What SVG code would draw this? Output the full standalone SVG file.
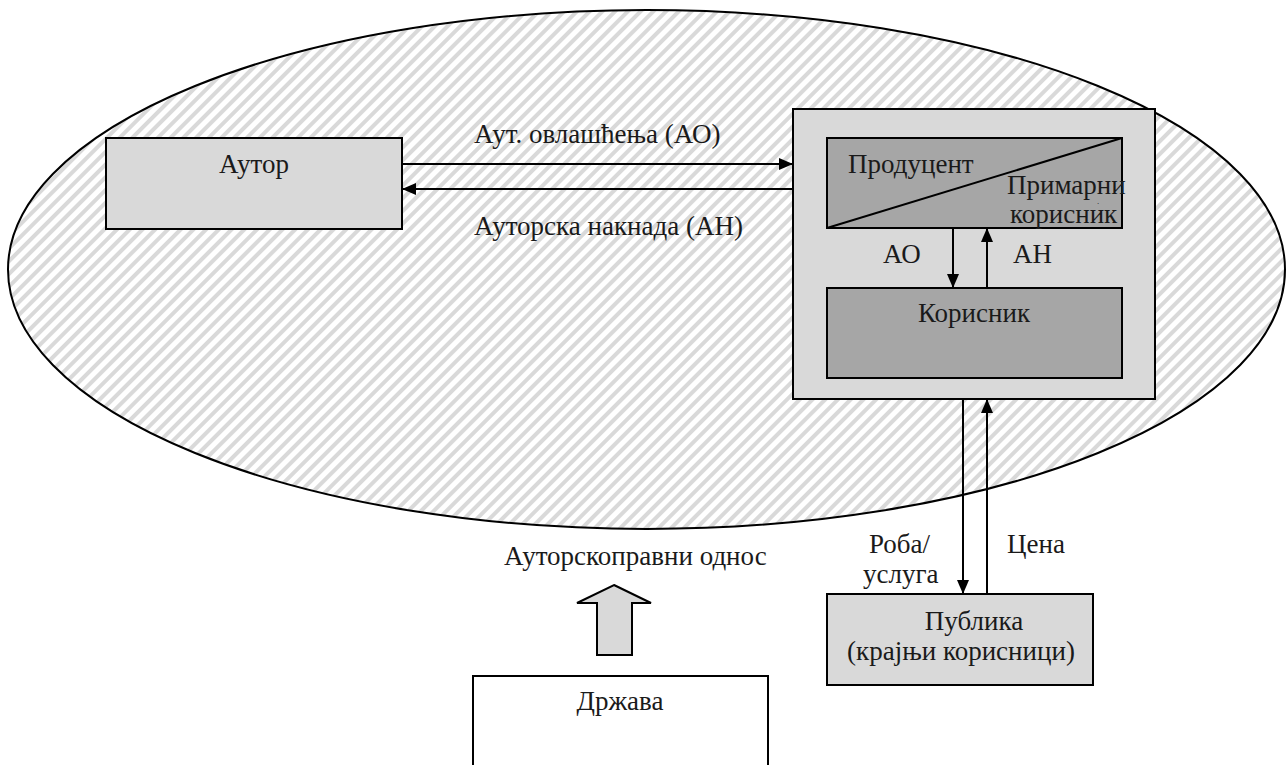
<svg xmlns="http://www.w3.org/2000/svg" width="1288" height="765" viewBox="0 0 1288 765">
<defs>
<pattern id="hatch" patternUnits="userSpaceOnUse" width="9" height="9" patternTransform="rotate(45)">
<rect width="9" height="9" fill="#ffffff"/>
<rect x="0" y="0" width="4" height="9" fill="#d9d9d9"/>
</pattern>
<marker id="ah" markerWidth="14" markerHeight="12" refX="14" refY="6" orient="auto" markerUnits="userSpaceOnUse">
<path d="M0,0 L14,6 L0,12 Z" fill="#000"/>
</marker>
</defs>
<style>
text{font-family:'Liberation Serif',serif;font-size:27px;fill:#1a1a1a}
.c{text-anchor:middle}
.box{stroke:#000;stroke-width:2}
.light{fill:#d9d9d9}
.dark{fill:#a6a6a6}
.conn line{stroke:#000;stroke-width:2}
</style>
<rect width="1288" height="765" fill="#fff"/>
<g id="scope">
<ellipse cx="646.5" cy="269.5" rx="638.5" ry="259.5" fill="url(#hatch)" stroke="#000" stroke-width="2"/>
</g>
<g id="autor">
<rect class="box light" x="106" y="138" width="296" height="91"/>
<text class="c" x="254" y="173">Аутор</text>
</g>
<g id="container">
<rect class="box light" x="793" y="109" width="362" height="290"/>
</g>
<g id="producent">
<rect class="box dark" x="827" y="138" width="295" height="90"/>
<line x1="827" y1="228" x2="1122" y2="138" stroke="#000" stroke-width="2"/>
<text x="848" y="173">Продуцент</text>
<text x="1007" y="194">Примарни</text>
<text x="1097" y="204" style="font-size:9px">.</text>
<text x="1010" y="223">корисник</text>
</g>
<g id="korisnik">
<rect class="box dark" x="827" y="288" width="295" height="90"/>
<text class="c" x="974" y="322">Корисник</text>
</g>
<g id="publika">
<rect class="box light" x="827" y="594" width="266" height="91"/>
<text class="c" x="974" y="630">Публика</text>
<text class="c" x="961" y="660">(крајњи корисници)</text>
</g>
<g id="drzava">
<rect class="box" fill="#fff" x="473" y="676" width="295" height="100"/>
<text class="c" x="620" y="710">Држава</text>
</g>
<g id="block-arrow">
<path d="M614,585 L651,603 L632,603 L632,655 L597,655 L597,603 L577,603 Z" fill="#d9d9d9" stroke="#000" stroke-width="2" stroke-linejoin="miter"/>
</g>
<g id="connectors" class="conn">
<line x1="402" y1="164" x2="793" y2="164" marker-end="url(#ah)"/>
<line x1="793" y1="189" x2="402" y2="189" marker-end="url(#ah)"/>
<line x1="953" y1="228" x2="953" y2="288" marker-end="url(#ah)"/>
<line x1="987" y1="288" x2="987" y2="228" marker-end="url(#ah)"/>
<line x1="963" y1="399" x2="963" y2="594" marker-end="url(#ah)"/>
<line x1="987" y1="594" x2="987" y2="399" marker-end="url(#ah)"/>
</g>
<g id="labels">
<text x="474" y="143">Аут. овлашћења (АО)</text>
<text x="474" y="235">Ауторска накнада (АН)</text>
<text x="883" y="263">АО</text>
<text x="1013" y="263">АН</text>
<text x="869" y="553">Роба/</text>
<text x="863" y="583">услуга</text>
<text x="1007" y="553">Цена</text>
<text x="504" y="565">Ауторскоправни однос</text>
</g>
</svg>
